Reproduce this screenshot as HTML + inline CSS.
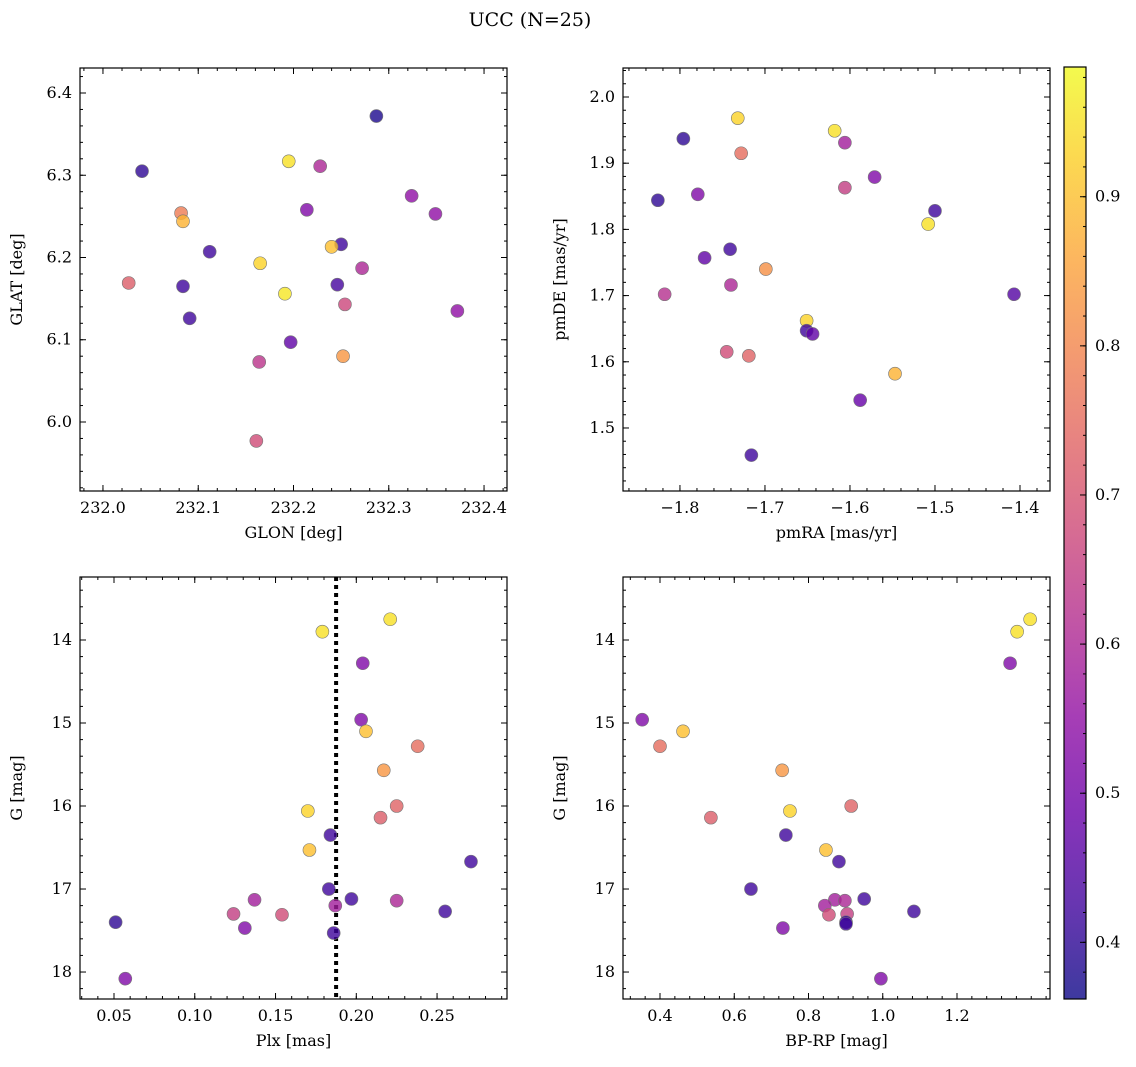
<!DOCTYPE html>
<html><head><meta charset="utf-8">
<style>
html,body{margin:0;padding:0;background:#fff;}
svg{display:block;font-family:"DejaVu Serif","Liberation Serif",serif;}
</style></head>
<body>
<svg id="fig" width="1136" height="1067" viewBox="0 0 1136 1067" xmlns="http://www.w3.org/2000/svg">
<defs>
<linearGradient id="plasma" x1="0" y1="1" x2="0" y2="0">
<stop offset="0" stop-color="#0d0887"/><stop offset="0.1" stop-color="#41049d"/><stop offset="0.2" stop-color="#6a00a8"/><stop offset="0.3" stop-color="#8f0da4"/><stop offset="0.4" stop-color="#b12a90"/><stop offset="0.5" stop-color="#cc4778"/><stop offset="0.6" stop-color="#e16462"/><stop offset="0.7" stop-color="#f2844b"/><stop offset="0.8" stop-color="#fca636"/><stop offset="0.9" stop-color="#fcce25"/><stop offset="1" stop-color="#f0f921"/>
</linearGradient>
</defs>
<text x="530" y="26" text-anchor="middle" font-size="19">UCC (N=25)</text>
</svg>
<script>
// Panel 1: GLON vs GLAT
const glon = [232.287,232.041,232.228,232.195,232.082,232.084,232.214,232.324,232.349,232.112,232.250,232.240,232.165,232.027,232.084,232.246,232.272,232.254,232.091,232.191,232.372,232.197,232.252,232.164,232.161];
const glat = [6.372,6.305,6.311,6.317,6.254,6.244,6.258,6.275,6.253,6.207,6.216,6.213,6.193,6.169,6.165,6.167,6.187,6.143,6.126,6.156,6.135,6.097,6.080,6.073,5.977];
const c1 = [0.38,0.40,0.60,0.95,0.78,0.88,0.52,0.55,0.55,0.42,0.42,0.90,0.93,0.72,0.42,0.43,0.60,0.67,0.42,0.96,0.55,0.47,0.83,0.63,0.68];
// Panel 2: pmRA vs pmDE
const pmra = [-1.618,-1.796,-1.732,-1.728,-1.606,-1.779,-1.606,-1.571,-1.826,-1.500,-1.508,-1.741,-1.771,-1.699,-1.740,-1.818,-1.407,-1.651,-1.651,-1.644,-1.745,-1.719,-1.547,-1.588,-1.716];
const pmde = [1.949,1.937,1.968,1.915,1.931,1.853,1.863,1.879,1.844,1.828,1.808,1.770,1.757,1.740,1.716,1.702,1.702,1.662,1.647,1.642,1.615,1.609,1.582,1.542,1.459];
const c2 = [0.95,0.40,0.93,0.75,0.58,0.52,0.65,0.52,0.40,0.42,0.95,0.42,0.47,0.82,0.60,0.62,0.45,0.93,0.42,0.47,0.68,0.73,0.88,0.48,0.42];
// Panel 3: Plx vs G
const plx = [0.179,0.221,0.204,0.203,0.206,0.238,0.217,0.170,0.225,0.215,0.184,0.171,0.271,0.183,0.197,0.137,0.225,0.187,0.255,0.124,0.154,0.051,0.131,0.186,0.057];
const gmag3 = [13.90,13.75,14.28,14.96,15.10,15.28,15.57,16.06,16.00,16.14,16.35,16.53,16.67,17.00,17.12,17.13,17.14,17.20,17.27,17.30,17.31,17.40,17.47,17.53,18.08];
const c3 = [0.95,0.95,0.52,0.52,0.90,0.75,0.83,0.93,0.73,0.72,0.42,0.90,0.42,0.42,0.42,0.58,0.60,0.58,0.42,0.65,0.68,0.40,0.52,0.42,0.52];
// Panel 4: BP-RP vs G
const bprp = [1.397,1.362,1.343,0.352,0.400,0.462,0.729,0.750,0.915,0.537,0.739,0.847,0.882,0.645,0.950,0.871,0.898,0.844,1.084,0.904,0.855,0.901,0.731,0.901,0.995];
const gmag4 = [13.75,13.90,14.28,14.96,15.28,15.10,15.57,16.06,16.00,16.14,16.35,16.53,16.67,17.00,17.12,17.13,17.14,17.20,17.27,17.30,17.31,17.40,17.47,17.42,18.08];
const c4 = [0.95,0.95,0.52,0.52,0.75,0.90,0.83,0.93,0.73,0.72,0.42,0.90,0.42,0.42,0.42,0.58,0.60,0.58,0.42,0.65,0.68,0.40,0.52,0.42,0.52];
const plxLine = 0.1875;
// tick labels
const t1x = [232.0,232.1,232.2,232.3,232.4], t1y = [6.0,6.1,6.2,6.3,6.4];
const t2x = [-1.8,-1.7,-1.6,-1.5,-1.4], t2y = [1.5,1.6,1.7,1.8,1.9,2.0];
const t3x = [0.05,0.10,0.15,0.20,0.25], tG = [14,15,16,17,18];
const t4x = [0.4,0.6,0.8,1.0,1.2];
const tcb = [0.4,0.5,0.6,0.7,0.8,0.9];
const cmin = 0.362, cmax = 0.987;

const NS = "http://www.w3.org/2000/svg";
const svg = document.getElementById('fig');
function mk(tag, attrs, parent){const e=document.createElementNS(NS,tag);for(const k in attrs)e.setAttribute(k,attrs[k]);(parent||svg).appendChild(e);return e;}
const stops=[[0,[13,8,135]],[0.1,[65,4,157]],[0.2,[106,0,168]],[0.3,[143,13,164]],[0.4,[177,42,144]],[0.5,[204,71,120]],[0.6,[225,100,98]],[0.7,[242,132,75]],[0.8,[252,166,54]],[0.9,[252,206,37]],[1,[240,249,33]]];
function plasma(t){t=Math.max(0,Math.min(1,t));for(let i=0;i<stops.length-1;i++){const a=stops[i],b=stops[i+1];if(t<=b[0]){const f=(t-a[0])/(b[0]-a[0]);const c=a[1].map((v,j)=>Math.round(v+(b[1][j]-v)*f));return `rgb(${c[0]},${c[1]},${c[2]})`;}}return 'rgb(240,249,33)';}

function panel(o){
  const {x0,x1,y0,y1,dx,dy,name} = o;
  const sx=v=>x0+(v-dx[0])/(dx[1]-dx[0])*(x1-x0);
  const sy=v=>y1-(v-dy[0])/(dy[1]-dy[0])*(y1-y0);
  const g=mk('g',{});
  
  
  if(o.vline!==undefined){
    const l=mk('line',{x1:sx(o.vline),x2:sx(o.vline),y1:y0,y2:y1,stroke:'#000','stroke-width':4,'stroke-dasharray':'4,4'},g);
    
    
  }
  for(let i=0;i<o.xs.length;i++){
    const c=mk('circle',{cx:sx(o.xs[i]),cy:sy(o.ys[i]),r:6.5,fill:plasma((o.cs[i]-cmin)/(cmax-cmin)),'fill-opacity':0.8,stroke:'#777','stroke-width':0.6},g);
    
    
  }
  mk('rect',{x:x0,y:y0,width:x1-x0,height:y1-y0,fill:'none',stroke:'#000','stroke-width':1.2},g);
  const lo=Math.min(...dx),hi=Math.max(...dx);
  for(let v=Math.ceil(lo/o.mx-1e-6)*o.mx;v<=hi+1e-9;v+=o.mx){const x=sx(v);mk('line',{x1:x,x2:x,y1:y1,y2:y1-3,stroke:'#000'},g);mk('line',{x1:x,x2:x,y1:y0,y2:y0+3,stroke:'#000'},g);}
  const ylo=Math.min(...dy),yhi=Math.max(...dy);
  for(let v=Math.ceil(ylo/o.my-1e-6)*o.my;v<=yhi+1e-9;v+=o.my){const y=sy(v);mk('line',{x1:x0,x2:x0+3,y1:y,y2:y,stroke:'#000'},g);mk('line',{x1:x1,x2:x1-3,y1:y,y2:y,stroke:'#000'},g);}
  o.tx.forEach(v=>{const x=sx(v);mk('line',{x1:x,x2:x,y1:y1,y2:y1-6,stroke:'#000'},g);mk('line',{x1:x,x2:x,y1:y0,y2:y0+6,stroke:'#000'},g);
    const t=mk('text',{x:x,y:y1+22,'text-anchor':'middle','font-size':16},g);t.textContent=o.fx(v).replace('-','\u2212');
    
    });
  o.ty.forEach(v=>{const y=sy(v);mk('line',{x1:x0,x2:x0+6,y1:y,y2:y,stroke:'#000'},g);mk('line',{x1:x1,x2:x1-6,y1:y,y2:y,stroke:'#000'},g);
    const t=mk('text',{x:x0-8,y:y+5,'text-anchor':'end','font-size':16},g);t.textContent=o.fy(v);
    
    });
  const xl=mk('text',{x:(x0+x1)/2,y:y1+47,'text-anchor':'middle','font-size':16},g);xl.textContent=o.xlab;
  
  
  const yx=x0-58, yc=(y0+y1)/2;
  const yl=mk('text',{x:yx,y:yc,'text-anchor':'middle','font-size':16,transform:`rotate(-90 ${yx} ${yc})`},g);yl.textContent=o.ylab;
  
  
}
const f1=v=>v.toFixed(1), f2=v=>v.toFixed(2), f0=v=>String(v);
panel({name:'glon-glat-panel',x0:80,x1:507,y0:68,y1:491,dx:[231.9759,232.4241],dy:[5.9161,6.4304],xs:glon,ys:glat,cs:c1,tx:t1x,ty:t1y,mx:0.02,my:0.02,fx:f1,fy:f1,xlab:'GLON [deg]',ylab:'GLAT [deg]'});
panel({name:'pmra-pmde-panel',x0:623,x1:1050,y0:68,y1:491,dx:[-1.867,-1.3647],dy:[1.4048,2.0438],xs:pmra,ys:pmde,cs:c2,tx:t2x,ty:t2y,mx:0.02,my:0.02,fx:f1,fy:f1,xlab:'pmRA [mas/yr]',ylab:'pmDE [mas/yr]'});
panel({name:'plx-g-panel',x0:80,x1:507,y0:577,y1:999,dx:[0.02895,0.2933],dy:[18.325,13.241],xs:plx,ys:gmag3,cs:c3,tx:t3x,ty:tG,mx:0.01,my:0.2,fx:f2,fy:f0,xlab:'Plx [mas]',ylab:'G [mag]',vline:plxLine});
panel({name:'bprp-g-panel',x0:623,x1:1050,y0:577,y1:999,dx:[0.3003,1.4505],dy:[18.325,13.241],xs:bprp,ys:gmag4,cs:c4,tx:t4x,ty:tG,mx:0.04,my:0.2,fx:f1,fy:f0,xlab:'BP-RP [mag]',ylab:'G [mag]'});

// colorbar
const cb=mk('g',{});


const cy0=67, cy1=999, cx0=1064, cx1=1086;
const cs=v=>cy1-(v-cmin)/(cmax-cmin)*(cy1-cy0);
mk('rect',{x:cx0,y:cy0,width:cx1-cx0,height:cy1-cy0,fill:'url(#plasma)','fill-opacity':0.8},cb);
mk('rect',{x:cx0,y:cy0,width:cx1-cx0,height:cy1-cy0,fill:'none',stroke:'#000','stroke-width':1.2},cb);
for(let v=0.38;v<=cmax;v+=0.02){mk('line',{x1:cx1,x2:cx1-3,y1:cs(v),y2:cs(v),stroke:'#000'},cb);}
tcb.forEach(v=>{const y=cs(v);mk('line',{x1:cx1,x2:cx1-6,y1:y,y2:y,stroke:'#000'},cb);
  const t=mk('text',{x:cx1+9,y:y+5,'font-size':16},cb);t.textContent=v.toFixed(1);
  
  });
</script>
</body></html>
